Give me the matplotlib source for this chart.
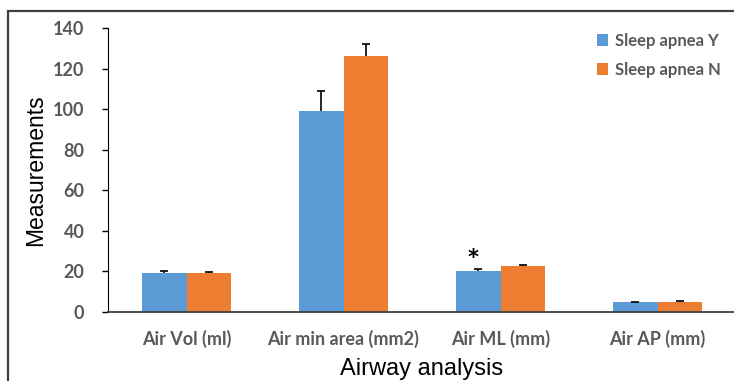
import numpy as np
import matplotlib
matplotlib.use("Agg")
import matplotlib.pyplot as plt
from matplotlib.patches import Rectangle

categories = ["Air Vol (ml)", "Air min area (mm2)", "Air ML (mm)", "Air AP (mm)"]
series_names = ["Sleep apnea Y", "Sleep apnea N"]
apnea_y = [19.0, 99.0, 20.2, 4.7]
apnea_n = [19.4, 126.0, 22.7, 5.1]
err_y = [1.0, 10.0, 0.8, 0.3]
err_n = [0.5, 6.0, 0.5, 0.3]
yticks = [0, 20, 40, 60, 80, 100, 120, 140]

blue = "#5B9BD5"
orange = "#ED7D31"
grey = "#595959"

fig = plt.figure(figsize=(7.34, 3.81), dpi=100)
ax = fig.add_axes([108 / 734, 1 - 312 / 381, 628 / 734, (312 - 28) / 381])

x = np.arange(len(categories))
w = 0.285
ekw = dict(ecolor="black", elinewidth=1.2, capsize=3, capthick=1.2)
b1 = ax.bar(x - w / 2, apnea_y, w, color=blue, label=series_names[0],
            yerr=[np.zeros(4), err_y], error_kw=ekw)
b2 = ax.bar(x + w / 2, apnea_n, w, color=orange, label=series_names[1],
            yerr=[np.zeros(4), err_n], error_kw=ekw)
# keep only the upper caps (plus-direction error bars)
for b in (b1, b2):
    caps = b.errorbar.lines[1]
    caps[0].set_visible(False)

# significance marker
ax.text(x[2] - w / 2 - 0.03, apnea_y[2] + err_y[2] + 0.5, "*", ha="center", va="bottom",
        fontsize=15, fontweight="bold", color="black")

ax.set_xlim(-0.5, 3.5)
ax.set_ylim(0, 140)
ax.set_yticks(yticks)
ax.set_xticks(x)
ax.set_xticklabels(categories)
for lab in ax.get_xticklabels() + ax.get_yticklabels():
    lab.set_fontfamily("Lato")
    lab.set_fontweight("bold")
    lab.set_color(grey)
    lab.set_fontsize(13)
ax.tick_params(axis="x", length=0, pad=13)
ax.tick_params(axis="y", direction="out", length=4, width=1, color="black", pad=13)

for s in ["top", "right"]:
    ax.spines[s].set_visible(False)
ax.spines["left"].set_color("black")
ax.spines["bottom"].set_color("#404040")
ax.spines["bottom"].set_linewidth(1.3)

ax.set_ylabel("Measurements", fontsize=16.5, family="Liberation Sans", labelpad=4)
ax.set_xlabel("Airway analysis", fontsize=17, family="Liberation Sans", labelpad=7)

leg = ax.legend(loc="upper right", bbox_to_anchor=(1.0, 1.035), frameon=False,
                prop=dict(family="Lato", weight="bold", size=12),
                handlelength=0.7, handleheight=0.7, handletextpad=0.4, labelspacing=0.75)
for t in leg.get_texts():
    t.set_color(grey)

# outer frame
fig.patches.append(Rectangle((8 / 734, -0.05), 1.1, 1 - 11 / 381 + 0.05, transform=fig.transFigure,
                             fill=False, edgecolor="#404040", linewidth=1.6, clip_on=False))

fig.savefig("out.png", dpi=100)
